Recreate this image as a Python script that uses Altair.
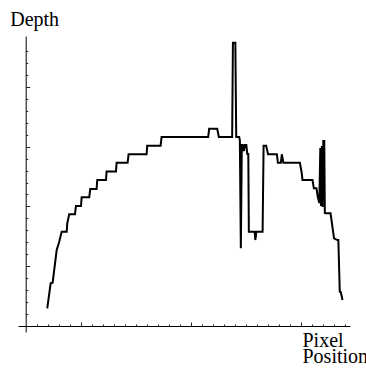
import altair as alt
import pandas as pd

# Depth profile sampled along a scan line (pixel position -> depth)
pixel_position = [
    69.6, 72.7, 74.5, 78.2, 80.5, 82.7, 87.3, 87.8, 89.6, 94.8,
    95.7, 100.3, 100.9, 107.8, 108.7, 114.5, 115.1, 123.0, 123.6, 132.1,
    132.7, 142.7, 143.6, 160.0, 160.5, 172.7, 173.6, 216.0, 216.9, 224.2,
    225.7, 237.8, 238.5, 240.7, 241.5, 244.2, 244.8, 245.7, 246.6, 247.5,
    248.5, 249.4, 250.7, 251.6, 252.5, 253.0, 258.2, 258.9, 259.8, 265.5,
    266.4, 268.7, 270.5, 278.5, 279.4, 282.1, 283.0, 284.4, 299.4, 300.9,
    301.8, 310.9, 312.1, 314.5, 315.7, 317.1, 318.0, 318.6, 319.4, 320.1,
    320.7, 321.6, 322.1, 323.0, 327.3, 330.5, 333.5, 334.4, 335.7, 336.6,
    338.2,
]
depth = [
    14.8, 35.7, 36.2, 63.5, 70.5, 78.8, 78.8, 85.9, 93.4, 93.4,
    100.3, 100.3, 107.6, 107.6, 114.5, 114.5, 122.1, 122.1, 129.3, 129.3,
    136.5, 136.5, 143.6, 143.6, 150.8, 150.8, 158.0, 158.0, 165.0, 165.0,
    158.0, 158.0, 236.9, 236.9, 158.0, 158.0, 155.5, 65.0, 151.3, 151.3,
    146.3, 151.3, 151.3, 143.8, 143.8, 78.8, 78.8, 71.9, 78.8, 78.8,
    150.8, 150.8, 143.6, 143.6, 136.5, 136.5, 143.6, 136.5, 136.5, 129.0,
    122.1, 122.1, 115.1, 115.1, 107.9, 102.8, 148.8, 100.3, 150.5, 99.5,
    154.7, 154.7, 94.5, 94.2, 94.2, 73.3, 71.9, 71.9, 28.7, 28.4,
    21.7,
]

# Tick positions (no tick labels are drawn)
x_minor_ticks = list(range(60, 341, 10))
x_major_ticks = [100, 200, 300]
y_minor_ticks = list(range(10, 231, 10))
y_major_ticks = [50, 100, 150, 200]

df = pd.DataFrame({"pos": pixel_position, "depth": depth})

FONT = "Liberation Serif"
x_scale = alt.Scale(domain=[43, 345], nice=False, zero=False)
y_scale = alt.Scale(domain=[-5, 242.5], nice=False, zero=False)

base = alt.Chart(df)

profile = base.mark_line(color="black", strokeWidth=2, strokeJoin="miter").encode(
    x=alt.X(
        "pos:Q",
        scale=x_scale,
        axis=alt.Axis(
            orient="top", offset=-290, values=x_minor_ticks, tickSize=2,
            labels=False, grid=False, domainColor="black", domainWidth=1,
            tickColor="#222", tickWidth=1,
            title=["Pixel", "Position"], titleFont=FONT, titleFontSize=20,
            titleFontWeight="normal", titleColor="black", titleAlign="left",
            titleBaseline="alphabetic", titleAnchor="start", titleAngle=0,
            titleX=284, titleY=20, titleLineHeight=16.5,
        ),
    ),
    y=alt.Y(
        "depth:Q",
        scale=y_scale,
        axis=alt.Axis(
            orient="right", offset=-324.3, values=y_minor_ticks, tickSize=2,
            labels=False, grid=False, domainColor="black", domainWidth=1,
            tickColor="#222", tickWidth=1,
            title="Depth", titleFont=FONT, titleFontSize=20,
            titleFontWeight="normal", titleColor="black", titleAlign="left",
            titleBaseline="alphabetic", titleAngle=0,
            titleX=-16, titleY=-11,
        ),
    ),
)

# Invisible copy of the profile that carries the longer major ticks
major = base.mark_line(strokeOpacity=0).encode(
    x=alt.X(
        "pos:Q",
        scale=x_scale,
        axis=alt.Axis(
            orient="top", offset=-290, values=x_major_ticks, tickSize=4,
            labels=False, grid=False, domain=False, tickColor="#222",
            tickWidth=1, title=None,
        ),
    ),
    y=alt.Y(
        "depth:Q",
        scale=y_scale,
        axis=alt.Axis(
            orient="right", offset=-324.3, values=y_major_ticks, tickSize=4,
            labels=False, grid=False, domain=False, tickColor="#222",
            tickWidth=1, title=None,
        ),
    ),
)

chart = (
    alt.layer(profile, major)
    .resolve_axis(x="independent", y="independent")
    .properties(
        width=332,
        height=296,
        autosize=alt.AutoSizeParams(type="none"),
        padding={"left": 18, "top": 36, "right": 16, "bottom": 39},
        background="white",
    )
    .configure_view(stroke=None)
)

chart.save("out.html", embed_options={"renderer": "svg", "actions": False})
